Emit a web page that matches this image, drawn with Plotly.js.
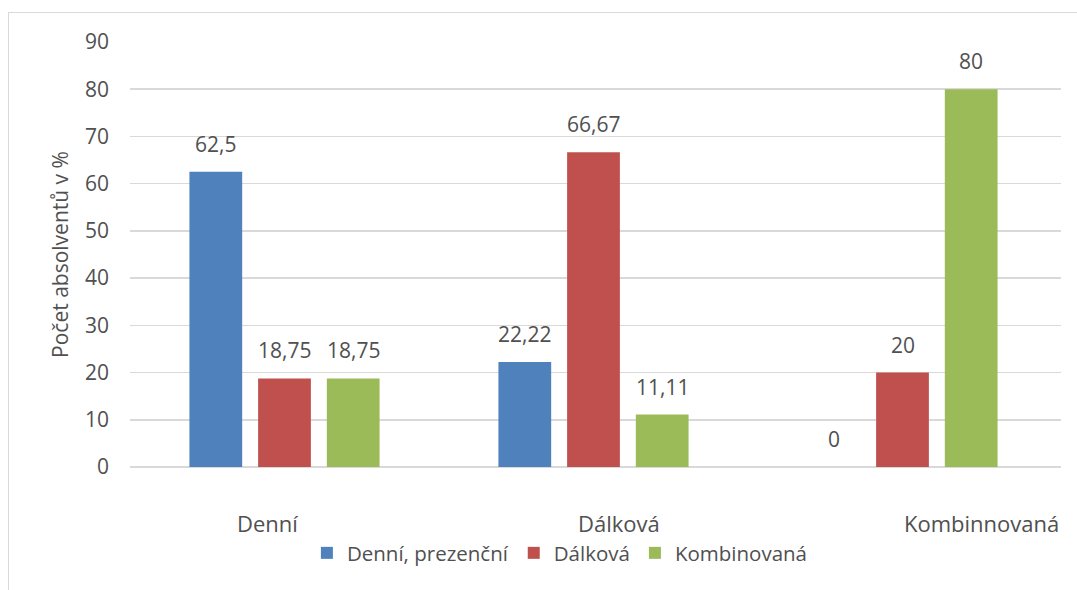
<!DOCTYPE html>
<html>
<head>
<meta charset="utf-8">
<script src="https://cdn.plot.ly/plotly-3.0.1.min.js"></script>
<style>
  html, body { margin: 0; padding: 0; background: #ffffff; }
  #wrap { position: relative; width: 1077px; height: 590px; overflow: hidden; }
  #chart { width: 1077px; height: 590px; }
  #frame { position: absolute; left: 8px; top: 12px; width: 1200px; height: 700px;
           border: 1.5px solid #d9d9d9; pointer-events: none; }
</style>
</head>
<body>
<div id="wrap">
  <div id="chart"></div>
  <div id="frame"></div>
</div>
<script>
// ---- data ----
const categories = ['Denní', 'Dálková', 'Kombinnovaná'];
const seriesNames = ['Denní, prezenční', 'Dálková', 'Kombinovaná'];
const denniPrezencni = [62.5, 22.22, 0];
const dalkova = [18.75, 66.67, 20];
const kombinovana = [18.75, 11.11, 80];
const yTickValues = [0, 10, 20, 30, 40, 50, 60, 70, 80, 90];
const yAxisTitle = 'Počet absolventů v %';

// ---- styling ----
const colors = ['#4F81BD', '#C0504D', '#9BBB59'];
const textColor = '#505050';
const fontFamily = '"Open Sans", "Noto Sans", sans-serif';
const barGap = 0.333;
const barGroupGap = 0.232;

const seriesValues = [denniPrezencni, dalkova, kombinovana];

const traces = seriesValues.map((vals, i) => ({
  type: 'bar',
  name: seriesNames[i],
  x: categories,
  y: vals,
  marker: { color: colors[i] },
  hoverinfo: 'none'
}));

const fmt = v => String(v).replace('.', ',');
const slot = (1 - barGap) / seriesValues.length;
const annotations = [];
seriesValues.forEach((vals, si) => {
  vals.forEach((v, ci) => {
    annotations.push({
      xref: 'x', yref: 'y',
      x: ci + (si - (seriesValues.length - 1) / 2) * slot,
      y: v,
      text: fmt(v),
      showarrow: false,
      yanchor: 'bottom',
      yshift: 12,
      font: { family: fontFamily, size: 21, color: textColor }
    });
  });
});
const catLabelShift = [-17, 25, 79];
categories.forEach((c, ci) => {
  annotations.push({
    xref: 'x', yref: 'paper',
    x: ci, y: -0.132,
    yanchor: 'middle',
    xshift: catLabelShift[ci],
    text: c,
    showarrow: false,
    font: { family: fontFamily, size: 22, color: textColor }
  });
});

const layout = {
  width: 1077,
  height: 590,
  margin: { l: 130, r: 16, t: 42, b: 123 },
  paper_bgcolor: '#ffffff',
  plot_bgcolor: '#ffffff',
  font: { family: fontFamily, color: textColor, size: 21 },
  barmode: 'group',
  bargap: barGap,
  bargroupgap: barGroupGap,
  showlegend: true,
  legend: {
    orientation: 'h',
    x: 0.19, xanchor: 'left',
    y: -0.2024, yanchor: 'middle',
    font: { family: fontFamily, size: 20.5, color: textColor },
    itemwidth: 30,
    traceorder: 'normal'
  },
  xaxis: {
    type: 'category',
    showticklabels: false,
    showgrid: false,
    showline: false,
    zeroline: false,
    ticks: ''
  },
  yaxis: {
    range: [0, 90],
    tickvals: yTickValues,
    showgrid: true,
    gridcolor: '#d9d9d9',
    gridwidth: 1.5,
    zeroline: true,
    zerolinecolor: '#d9d9d9',
    zerolinewidth: 1.5,
    showline: false,
    ticks: '',
    ticklabelstandoff: 20,
    tickfont: { family: fontFamily, size: 21, color: textColor },
    title: { text: yAxisTitle, standoff: 10, font: { family: fontFamily, size: 21, color: textColor } }
  },
  annotations: annotations
};

Plotly.newPlot('chart', traces, layout, { displayModeBar: false, staticPlot: true });
</script>
</body>
</html>
